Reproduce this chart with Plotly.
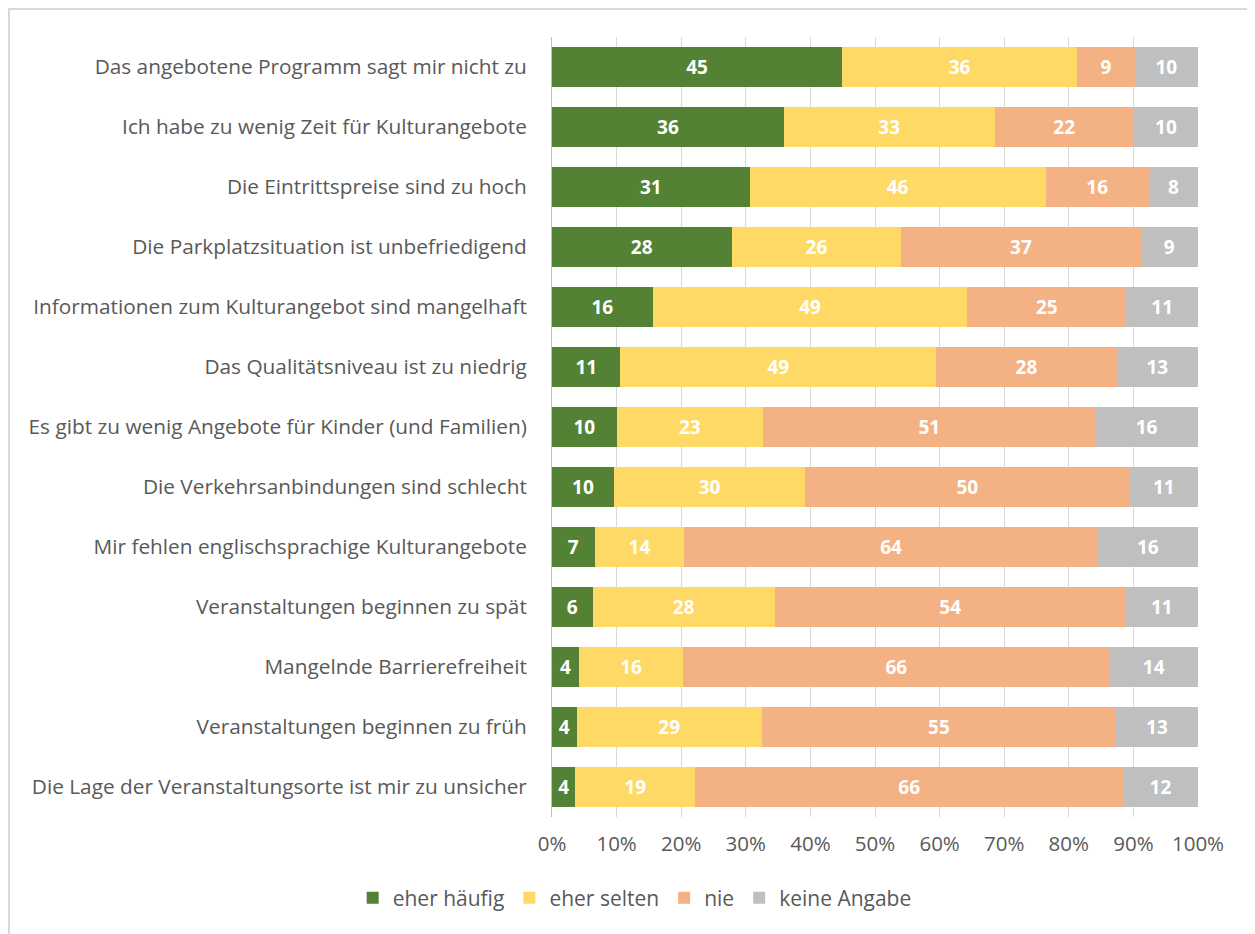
import plotly.graph_objects as go

# categories, top to bottom
reasons = [
    "Das angebotene Programm sagt mir nicht zu",
    "Ich habe zu wenig Zeit für Kulturangebote",
    "Die Eintrittspreise sind zu hoch",
    "Die Parkplatzsituation ist unbefriedigend",
    "Informationen zum Kulturangebot sind mangelhaft",
    "Das Qualitätsniveau ist zu niedrig",
    "Es gibt zu wenig Angebote für Kinder (und Familien)",
    "Die Verkehrsanbindungen sind schlecht",
    "Mir fehlen englischsprachige Kulturangebote",
    "Veranstaltungen beginnen zu spät",
    "Mangelnde Barrierefreiheit",
    "Veranstaltungen beginnen zu früh",
    "Die Lage der Veranstaltungsorte ist mir zu unsicher",
]

# shares in percent
eher_haeufig = [44.9, 35.9, 30.6, 27.8, 15.6, 10.6, 10.0, 9.6, 6.6, 6.3, 4.2, 3.8, 3.6]
eher_selten = [36.4, 32.6, 45.8, 26.3, 48.7, 48.9, 22.7, 29.6, 13.9, 28.2, 16.1, 28.7, 18.6]
nie = [8.9, 21.6, 16.0, 37.0, 24.6, 27.9, 51.4, 50.2, 64.0, 54.3, 66.0, 54.8, 66.2]
keine_angabe = [9.8, 9.9, 7.6, 8.9, 11.1, 12.6, 15.9, 10.6, 15.5, 11.2, 13.7, 12.7, 11.6]

tick_vals = [0, 10, 20, 30, 40, 50, 60, 70, 80, 90, 100]
tick_text = [f"{v}%" for v in tick_vals]

series = [
    ("eher häufig", eher_haeufig, "#548235"),
    ("eher selten", eher_selten, "#ffd966"),
    ("nie", nie, "#f4b183"),
    ("keine Angabe", keine_angabe, "#bfbfbf"),
]

FONT = "Open Sans"

fig = go.Figure()
for name, vals, col in series:
    fig.add_trace(go.Bar(
        y=reasons, x=vals, name=name, orientation="h",
        marker=dict(color=col, line_width=0),
        texttemplate="%{x:.0f}", textposition="inside", insidetextanchor="middle",
        textangle=0, constraintext="none",
        textfont=dict(family=FONT, size=19, color="white", weight="bold"),
    ))

# page body adds 8px, so the figure is 8px smaller than the window
fig.update_layout(
    barmode="stack", bargap=0.333,
    width=1247, height=926,
    margin=dict(l=544, r=57, t=29, b=117),
    paper_bgcolor="white", plot_bgcolor="white",
    font=dict(family=FONT, size=21, color="#595959"),
    legend=dict(orientation="h", x=0.128, xanchor="center", y=-0.104, yanchor="middle",
                font=dict(size=21, color="#595959"), traceorder="normal"),
)
fig.update_xaxes(range=[0, 100], tickvals=tick_vals, ticktext=tick_text,
                 showgrid=True, gridcolor="#d9d9d9", gridwidth=1, zeroline=False,
                 ticks="", ticklabelstandoff=12, fixedrange=True,
                 tickfont=dict(size=20.5))
fig.update_yaxes(autorange="reversed", showline=True, linecolor="#bfbfbf", linewidth=1,
                 ticks="", ticklabelstandoff=20, showgrid=False,
                 tickfont=dict(size=20.8))

# outer chart frame
fig.add_shape(type="rect", xref="paper", yref="paper",
              x0=-0.8406, x1=1.0836, y0=-0.16, y1=1.0359,
              line=dict(color="#d9d9d9", width=2), layer="below")

fig.write_html("out.html")
